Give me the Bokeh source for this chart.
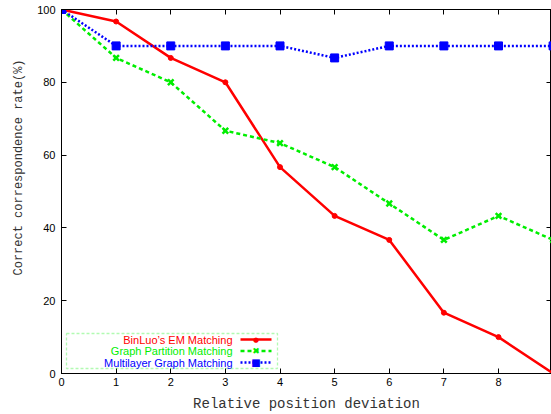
from bokeh.plotting import figure
from bokeh.models import (Range1d, FixedTicker, LinearAxis, Label, BoxAnnotation,
                          Arrow, Title, CustomJSTickFormatter)
from bokeh.embed import file_html
from bokeh.resources import INLINE

# ---- data ----
deviation = [0, 1, 2, 3, 4, 5, 6, 7, 8, 9]
em_matching = [100, 96.7, 86.7, 80, 56.7, 43.3, 36.7, 16.7, 10, 0]
partition_matching = [100, 86.7, 80, 66.7, 63.3, 56.7, 46.7, 36.7, 43.3, 36.7]
multilayer_matching = [100, 90, 90, 90, 90, 86.7, 90, 90, 90, 90]
x_ticks = [0, 1, 2, 3, 4, 5, 6, 7, 8]
y_ticks = [0, 20, 40, 60, 80, 100]
series_names = ["BinLuo\u2019s EM Matching", "Graph Partition Matching", "Multilayer Graph Matching"]

RED, GREEN, BLUE = "#ff0000", "#00ee00", "#0000ff"

p = figure(width=551, height=414, output_backend="svg", toolbar_location=None,
           x_range=Range1d(0, 8.97), y_range=Range1d(0, 100),
           min_border_left=61, min_border_right=0, min_border_top=9, min_border_bottom=39)
p.background_fill_color = "white"
p.border_fill_color = "white"
p.outline_line_color = "black"
p.outline_line_width = 1
p.grid.visible = False

def style_axis(ax, labels=True):
    ax.axis_line_color = "black"
    ax.major_tick_line_color = "black"
    ax.major_tick_in = 5
    ax.major_tick_out = 0
    ax.minor_tick_line_color = None
    if labels:
        ax.major_label_text_font = "Liberation Sans"
        ax.major_label_text_font_size = "11px"
        ax.major_label_text_color = "black"
    else:
        ax.formatter = CustomJSTickFormatter(code="return ''")
        ax.major_label_standoff = 0

p.xaxis.ticker = FixedTicker(ticks=x_ticks)
p.yaxis.ticker = FixedTicker(ticks=y_ticks)
style_axis(p.xaxis[0])
style_axis(p.yaxis[0])
p.xaxis.major_label_standoff = 4
p.yaxis.major_label_standoff = 6
p.xaxis.axis_label = "Relative position deviation"
p.xaxis.axis_label_text_font = "Liberation Mono"
p.xaxis.axis_label_text_font_size = "14px"
p.xaxis.axis_label_text_font_style = "normal"
p.xaxis.axis_label_text_color = "#333333"
p.xaxis.axis_label_standoff = 7

top_ax = LinearAxis(ticker=FixedTicker(ticks=x_ticks))
style_axis(top_ax, labels=False)
p.add_layout(top_ax, "above")
right_ax = LinearAxis(ticker=FixedTicker(ticks=y_ticks))
style_axis(right_ax, labels=False)
p.add_layout(right_ax, "right")

# y axis title, starting ~98px above the frame bottom like the reference
p.add_layout(Title(text="Correct correspondence rate(%)", align="left", offset=98,
                   text_font="Liberation Mono", text_font_size="12px",
                   text_font_style="normal", text_color="#333333", standoff=18),
             "left")

# ---- series ----
p.line(deviation, em_matching, line_color=RED, line_width=2.5)
p.scatter(deviation, em_matching, marker="circle", size=5, color=RED)
p.line(deviation, partition_matching, line_color=GREEN, line_width=2.5, line_dash="4 3")
p.scatter(deviation, partition_matching, marker="x", size=8, line_color=GREEN, line_width=2.5)
p.line(deviation, multilayer_matching, line_color=BLUE, line_width=2.5, line_dash="2 2")
p.scatter(deviation, multilayer_matching, marker="square", size=8, color=BLUE)

# ---- legend (gnuplot style: text then sample on its right) ----
p.add_layout(BoxAnnotation(left=5, right=216, bottom=5, top=40,
                           left_units="screen", right_units="screen",
                           bottom_units="screen", top_units="screen",
                           fill_color=None, line_color=GREEN, line_width=1.3,
                           line_dash="3 2"))
styles = [(RED, None, "\u25cf", "7px"), (GREEN, "4 3", "\u2716", "9px"), (BLUE, "2 2", "\u25a0", "10px")]
for i, (name, (col, dash, sym, symsize)) in enumerate(zip(series_names, styles)):
    yy = 34 - 11.5 * i
    p.add_layout(Label(x=171, y=yy, x_units="screen", y_units="screen",
                       text=name, text_align="right", text_baseline="middle",
                       text_font="Liberation Sans", text_font_size="11px",
                       text_color=col))
    arrow_kw = dict(x_start=179, y_start=yy, x_end=210, y_end=yy,
                    start_units="screen", end_units="screen", end=None,
                    line_color=col, line_width=2.5)
    if dash:
        arrow_kw["line_dash"] = dash
    p.add_layout(Arrow(**arrow_kw))
    p.add_layout(Label(x=194.5, y=yy, x_units="screen", y_units="screen",
                       text=sym, text_align="center", text_baseline="middle",
                       text_font="DejaVu Sans", text_font_size=symsize,
                       text_color=col))

open("out.html", "w").write(file_html(p, INLINE))
